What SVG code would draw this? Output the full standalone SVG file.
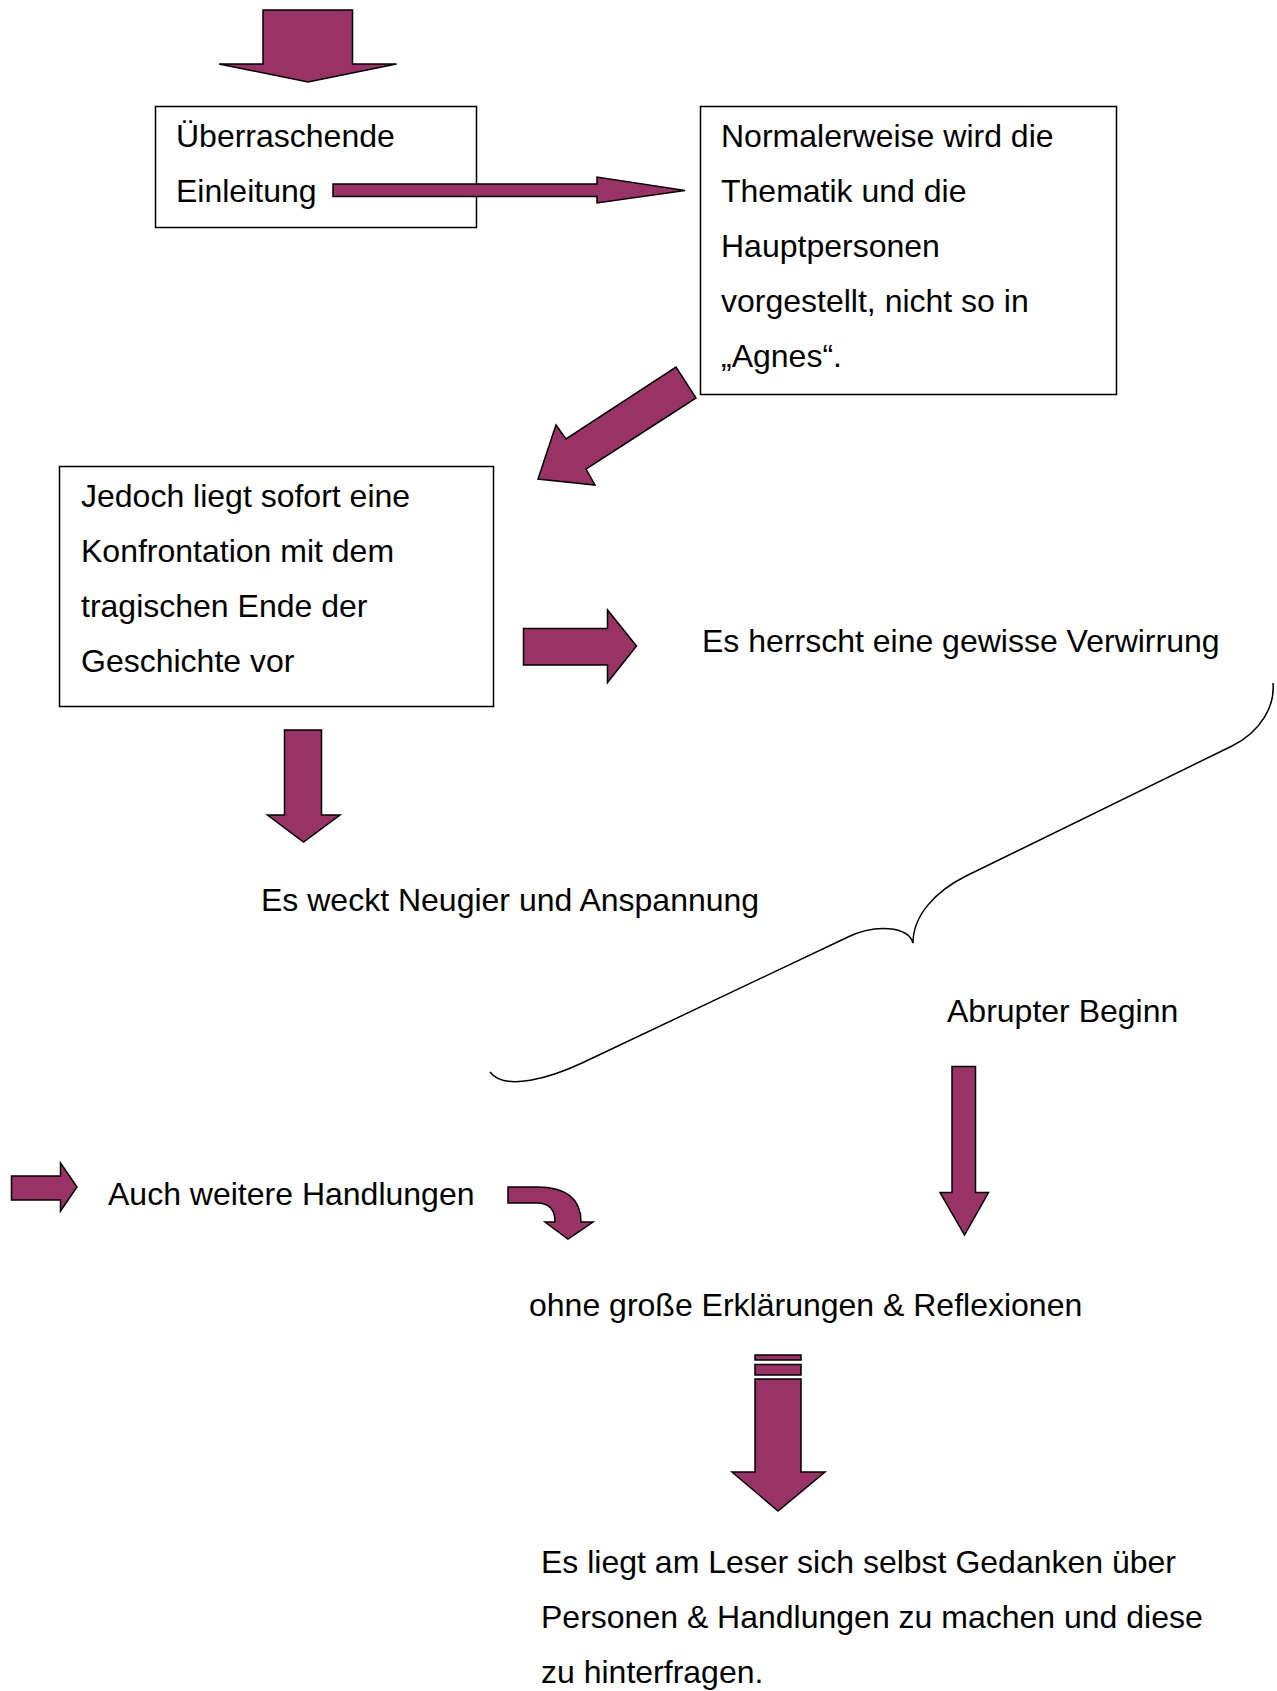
<svg xmlns="http://www.w3.org/2000/svg" width="1277" height="1691" viewBox="0 0 1277 1691">
<style>
.t{font-family:"Liberation Sans",Arial,sans-serif;font-size:32px;fill:#000}
.box{fill:#fff;stroke:#000;stroke-width:1.5}
.arr{fill:#993366;stroke:#000;stroke-width:1.5;stroke-linejoin:miter}
.brace{fill:none;stroke:#000;stroke-width:1.5}
</style>
<rect width="1277" height="1691" fill="#fff"/>
<g id="node-einleitung">
<rect class="box" x="155.5" y="106.5" width="321" height="121"/>
<text class="t" x="176" y="147">Überraschende</text>
<text class="t" x="176" y="202">Einleitung</text>
</g>
<g id="node-normalerweise">
<rect class="box" x="700.5" y="106.5" width="416" height="288"/>
<text class="t" x="721" y="147">Normalerweise wird die</text>
<text class="t" x="721" y="202">Thematik und die</text>
<text class="t" x="721" y="257">Hauptpersonen</text>
<text class="t" x="721" y="312">vorgestellt, nicht so in</text>
<text class="t" x="721" y="367">„Agnes“.</text>
</g>
<g id="node-jedoch">
<rect class="box" x="59.5" y="466.5" width="434" height="240"/>
<text class="t" x="81" y="507">Jedoch liegt sofort eine</text>
<text class="t" x="81" y="562">Konfrontation mit dem</text>
<text class="t" x="81" y="617">tragischen Ende der</text>
<text class="t" x="81" y="672">Geschichte vor</text>
</g>
<g id="node-verwirrung">
<text class="t" x="702" y="652">Es herrscht eine gewisse Verwirrung</text>
</g>
<g id="node-neugier">
<text class="t" x="261" y="911">Es weckt Neugier und Anspannung</text>
</g>
<g id="node-abrupt">
<text class="t" x="947" y="1022">Abrupter Beginn</text>
</g>
<g id="node-handlungen">
<text class="t" x="108" y="1205">Auch weitere Handlungen</text>
</g>
<g id="node-ohne">
<text class="t" x="529" y="1316">ohne große Erklärungen &amp; Reflexionen</text>
</g>
<g id="node-leser">
<text class="t" x="541" y="1573">Es liegt am Leser sich selbst Gedanken über</text>
<text class="t" x="541" y="1628">Personen &amp; Handlungen zu machen und diese</text>
<text class="t" x="541" y="1683">zu hinterfragen.</text>
</g>
<g id="connectors">
<polygon class="arr" points="263,10 352.5,10 352.5,64 396.5,64 308,82 219,64 263,64"/>
<polygon class="arr" points="333,184 597,184 597,177 685,190.5 597,203 597,196.5 333,196.5"/>
<polygon class="arr" points="538,479 556,425 566,439 676,367 696,398 586,469 595,485"/>
<polygon class="arr" points="523.5,628.5 607.5,628.5 607.5,610 636.5,646 607.5,682.5 607.5,665 523.5,665"/>
<polygon class="arr" points="284.5,730 321.5,730 321.5,815 340,815 303.5,842 267.5,815 284.5,815"/>
<path class="brace" d="M1273,683 C1275,705 1262,731 1232,746 L966,876 C936,891 913,915 913,943 C908,926 875,924 848,937 L582,1063 C552,1077 505,1092 490,1072"/>
<polygon class="arr" points="952,1066.5 975.5,1066.5 975.5,1192.5 988.5,1192.5 964.5,1235 940,1192.5 952,1192.5"/>
<polygon class="arr" points="11.5,1176 60.5,1176 60.5,1163 77,1187 60.5,1211 60.5,1200 11.5,1200"/>
<path class="arr" d="M508,1187 L537,1187 Q581,1187 581,1222 L593,1222 L568,1239 L545,1222 L555,1222 Q555,1203 537,1203 L508,1203 Z"/>
<rect class="arr" x="755" y="1355" width="46" height="5"/>
<rect class="arr" x="755" y="1364.5" width="46" height="10.5"/>
<polygon class="arr" points="755,1379 801,1379 801,1472 825,1472 778,1511 732,1472 755,1472"/>
</g>
</svg>
